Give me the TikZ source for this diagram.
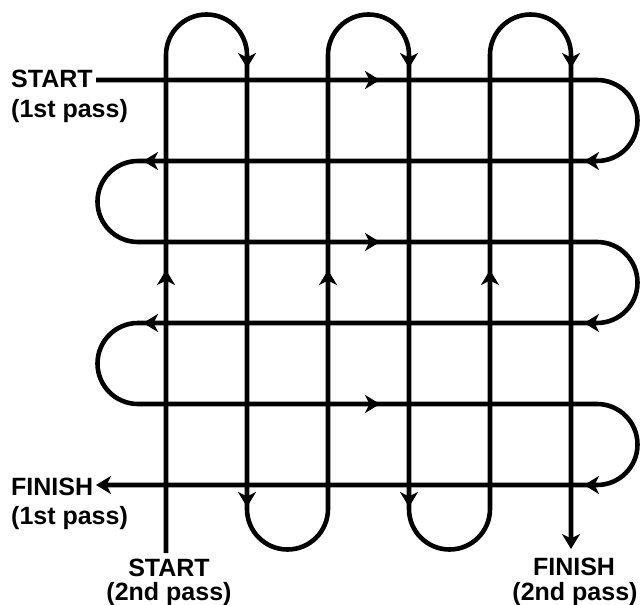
\documentclass[tikz,border=0pt]{standalone}
\usepackage{fontspec}
\setmainfont{Liberation Sans}
\usetikzlibrary{arrows.meta}
\begin{document}
\begin{tikzpicture}[x=1pt,y=-1pt,
  route/.style={line width=4.6pt, line join=round},
  tipend/.style={route, -{Stealth[length=15pt,width=18pt,inset=4.5pt]}},
  lab/.style={inner sep=0pt, font=\fontsize{25}{29}\selectfont\bfseries}]
\useasboundingbox (0,0) rectangle (643,605);
% labels
\node[lab, anchor=base west] (s1)  at (11,87)  {START};
\node[lab, anchor=base west] (s1p) at (11,117) {(1st pass)};
\node[lab, anchor=base west] (f1)  at (11,495) {FINISH};
\node[lab, anchor=base west] (f1p) at (11,524) {(1st pass)};
\node[lab, anchor=base] (s2)  at (169,576) {START};
\node[lab, anchor=base] (s2p) at (169,600) {(2nd pass)};
\node[lab, anchor=base] (f2)  at (574,575) {FINISH};
\node[lab, anchor=base] (f2p) at (575,600) {(2nd pass)};
% end points
\coordinate (A0) at (96,80);
\coordinate (A1) at (96,485);
\coordinate (B0) at (166,553);
\coordinate (B1) at (571,549);
% first pass
\draw[tipend] (A0) -- (597,80) arc[start angle=-90,end angle=90,radius=40.5]
  -- (138,161) arc[start angle=270,end angle=90,radius=40.5]
  -- (597,242) arc[start angle=-90,end angle=90,radius=40.5]
  -- (138,323) arc[start angle=270,end angle=90,radius=40.5]
  -- (597,404) arc[start angle=-90,end angle=90,radius=40.5]
  -- (A1);
% second pass
\draw[tipend] (B0) -- (166,55) arc[start angle=180,end angle=360,radius=40.5]
  -- (247,509) arc[start angle=180,end angle=0,radius=40.5]
  -- (328,55) arc[start angle=180,end angle=360,radius=40.5]
  -- (409,509) arc[start angle=180,end angle=0,radius=40.5]
  -- (490,55) arc[start angle=180,end angle=360,radius=40.5]
  -- (B1);
% arrowheads along the first pass
\foreach \y in {80,242,404} \draw[tipend] (360,\y) -- (380,\y);
\foreach \y in {161,323,485} \draw[tipend] (598,\y) -- (584,\y);
\foreach \y in {161,323} \draw[tipend] (158,\y) -- (143,\y);
% arrowheads along the second pass
\foreach \x in {166,328,490} \draw[tipend] (\x,290) -- (\x,270);
\foreach \x in {247,409,571} \draw[tipend] (\x,54) -- (\x,68);
\foreach \x in {247,409} \draw[tipend] (\x,493) -- (\x,507);
\end{tikzpicture}
\end{document}
